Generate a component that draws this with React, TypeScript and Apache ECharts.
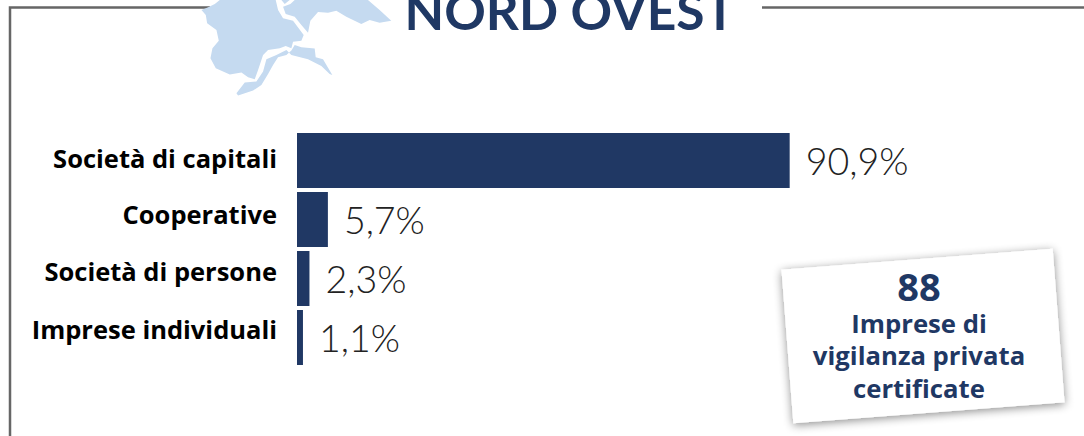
import React, { useEffect, useRef } from "react";
import * as echarts from "echarts";

const categories = ["Società di capitali", "Cooperative", "Società di persone", "Imprese individuali"];
const values = [90.9, 5.7, 2.3, 1.1];
const valueLabels = ["90,9%", "5,7%", "2,3%", "1,1%"];
const labelStyles = ["a", "b", "c", "d"];
const labelLift = [5, 11, 15, 17];
const title = "NORD OVEST";
const cardNumber = "88";
const cardLines = ["Imprese di", "vigilanza privata", "certificate"];

const NAVY = "#1f3864";
const BAR = "#203864";
const MAP = "#c5daf0";
const FRAME = "#666666";
const FONT = "Lato, 'Open Sans', sans-serif";
const BOLD_FONT = "'Open Sans', Lato, sans-serif";

// Map pieces traced at 3x scale
const mapD =
  "M660 0 L645 12 L625 22 L605 30 L618 45 L622 70 L650 90 L657 122 L638 145 L632 175 L648 205 L690 224 L725 218 L745 232 L765 238 L775 210 L790 165 L805 150 L840 145 L858 138 L875 145 L880 125 L905 122 L912 105 L880 62 L850 55 L835 30 L828 0 Z " +
  "M845 0 L855 12 L870 0 Z " +
  "M872 12 L850 20 L858 42 L885 50 L905 75 L925 98 L932 62 L955 36 L985 38 L1010 32 L1040 50 L1085 72 L1110 60 L1140 68 L1175 62 L1140 30 L1105 0 L885 0 Z " +
  "M710 280 L735 248 L770 245 L790 215 L800 178 L830 165 L860 150 L875 165 L925 178 L965 198 L990 222 L1010 230 L998 225 L970 178 L948 172 L945 146 L905 142 L885 135 L875 152 L860 165 L835 172 L820 195 L805 222 L785 255 L760 272 L715 287 Z";

echarts.graphic.registerShape("mapShape", echarts.graphic.extendPath(mapD, {}) as any);

export default function App() {
  const ref = useRef<HTMLDivElement>(null);
  useEffect(() => {
    const chart = echarts.init(ref.current!, null, { renderer: "svg" });
    const rich: any = {};
    labelStyles.forEach((k, i) => {
      rich[k] = {
        fontFamily: BOLD_FONT,
        fontWeight: 700,
        fontSize: 25.5,
        color: "#000",
        padding: [0, 0, labelLift[i], 0],
      };
    });
    chart.setOption({
      animation: false,
      backgroundColor: "#fff",
      grid: { left: 297, top: 131, width: 542, height: 236, containLabel: false },
      xAxis: { type: "value", min: 0, max: 100, show: false },
      yAxis: {
        type: "category",
        inverse: true,
        data: categories,
        axisLine: { show: false },
        axisTick: { show: false },
        axisLabel: {
          margin: 20,
          align: "right",
          formatter: (v: string, i: number) => `{${labelStyles[i]}|${v}}`,
          rich,
        },
      },
      series: [
        {
          type: "bar",
          data: values,
          barWidth: 55,
          itemStyle: { color: BAR },
          label: {
            show: true,
            position: "right",
            distance: 16,
            offset: [0, 0],
            fontFamily: FONT,
            fontWeight: 300,
            fontSize: 37.5,
            color: "#222",
            formatter: (p: any) => valueLabels[p.dataIndex],
          },
        },
      ],
      graphic: [
        {
          type: "polyline",
          shape: { points: [[210, 7.5], [10, 7.5], [10, 436]] },
          style: { stroke: FRAME, lineWidth: 2.5, fill: "none" },
        },
        {
          type: "line",
          shape: { x1: 762, y1: 7.5, x2: 1084, y2: 7.5 },
          style: { stroke: FRAME, lineWidth: 2.5 },
        },
        { type: "mapShape", x: 0, y: 0, scaleX: 1 / 3, scaleY: 1 / 3, style: { fill: MAP } },
        {
          type: "text",
          x: 570,
          y: 36,
          style: {
            text: title,
            fontFamily: FONT,
            fontWeight: 700,
            fontSize: 51.5,
            fill: NAVY,
            align: "center",
            verticalAlign: "bottom",
          },
        },
        {
          type: "rect",
          x: 923,
          y: 336,
          originX: 0,
          originY: 0,
          rotation: (4.4 * Math.PI) / 180,
          shape: { x: -136, y: -77, width: 272, height: 154 },
          style: {
            fill: "#fff",
            shadowBlur: 10,
            shadowColor: "rgba(0,0,0,0.45)",
            shadowOffsetX: 0,
            shadowOffsetY: 2,
          },
        },
        {
          type: "text",
          x: 919,
          y: 286,
          style: {
            text: cardNumber,
            fontFamily: BOLD_FONT,
            fontWeight: 700,
            fontSize: 38,
            lineHeight: 34,
            fill: NAVY,
            align: "center",
            verticalAlign: "middle",
          },
        },
        ...cardLines.map((t, i) => ({
          type: "text",
          x: 919,
          y: 323 + i * 32.5,
          style: {
            text: t,
            fontFamily: BOLD_FONT,
            fontWeight: 700,
            fontSize: 25.7,
            lineHeight: 30,
            fill: NAVY,
            align: "center",
            verticalAlign: "middle",
          },
        })),
      ],
    });
    return () => chart.dispose();
  }, []);
  return <div ref={ref} style={{ position: "absolute", left: 0, top: 0, width: 1084, height: 436 }} />;
}
